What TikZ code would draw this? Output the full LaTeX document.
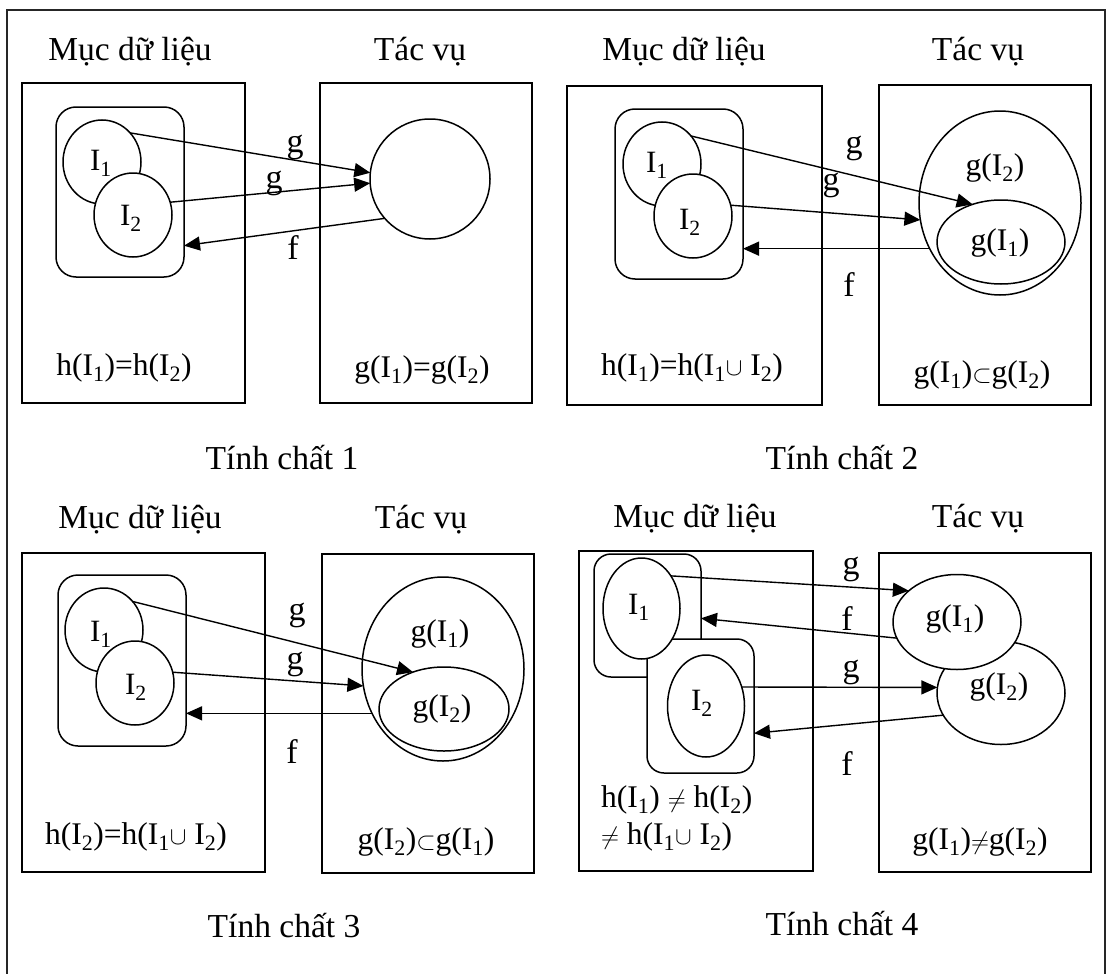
\documentclass[tikz,border=0pt]{standalone}
\usepackage{fontspec}
\setmainfont{Liberation Serif}
\usetikzlibrary{arrows.meta,shapes.geometric}
\newcommand\sbs[1]{\textsubscript{#1}}
\tikzset{
  box/.style={draw, line width=1.6pt, inner sep=0pt, outer sep=0pt, anchor=north west},
  rbox/.style={draw, line width=1.5pt, rounded corners=20pt, fill=white, inner sep=0pt, outer sep=0pt, anchor=north west},
  ell/.style={ellipse, draw, line width=1.5pt, fill=white, inner sep=0pt, outer sep=0pt},
  arr/.style={line width=1.4pt, -{Triangle[length=16pt,width=14pt]}},
  ttl/.style={font=\fontsize{33.5}{40}\selectfont, inner sep=0pt},
  lbl/.style={font=\fontsize{31.5}{38}\selectfont, inner sep=0pt},
  ilbl/.style={font=\fontsize{31}{38}\selectfont, inner sep=0pt},
  gf/.style={font=\fontsize{34}{40}\selectfont, inner sep=0pt}
}
\begin{document}
\begin{tikzpicture}[x=1pt,y=-1pt]
\useasboundingbox (0,0) rectangle (1108,974);
\draw[line width=2pt, black!85] (7,976) -- (7,10) -- (1105,10) -- (1105,976);

% ---------- Quadrant 1 ----------
\node[ttl] (t1a) at (130,52) {Mục dữ liệu};
\node[ttl] (t1b) at (420,52) {Tác vụ};
\node[box, minimum width=223pt, minimum height=320pt] (L1) at (22,83) {};
\node[box, minimum width=212pt, minimum height=320pt] (R1) at (320,83) {};
\node[rbox, minimum width=128pt, minimum height=170pt] (RR1) at (56,107) {};
\node[ell, minimum width=78pt, minimum height=84pt] (A1) at (102,162) {};
\node[ell, minimum width=78pt, minimum height=84pt] (B1) at (133,215) {};
\node[ilbl] (a1t) at (101,163) {I\sbs{1}};
\node[ilbl] (b1t) at (131,218) {I\sbs{2}};
\node[ell, minimum width=120pt, minimum height=120pt] (C1) at (430,179) {};
\draw[arr] (A1.46) -- (C1.174);
\draw[arr] (B1.19) -- (C1.184);
\draw[arr] (C1.221) -- (RR1.-40);
\node[gf] (g1a) at (295,147) {g};
\node[gf] (g1b) at (274,183) {g};
\node[gf] (f1a) at (293,248) {f};
\node[lbl] (h1) at (124,368) {h(I\sbs{1})=h(I\sbs{2})};
\node[lbl] (k1) at (422,370) {g(I\sbs{1})=g(I\sbs{2})};
\node[ttl] (p1) at (282,458) {Tính chất 1};

% ---------- Quadrant 2 ----------
\node[ttl] (t2a) at (684,52) {Mục dữ liệu};
\node[ttl] (t2b) at (978,52) {Tác vụ};
\node[box, minimum width=255pt, minimum height=319pt] (L2) at (567,86) {};
\node[box, minimum width=212pt, minimum height=320pt] (R2) at (879,85) {};
\node[rbox, minimum width=128pt, minimum height=170pt] (RR2) at (615,109) {};
\node[ell, minimum width=78pt, minimum height=84pt] (A2) at (662,164) {};
\node[ell, minimum width=78pt, minimum height=84pt] (B2) at (693,216) {};
\node[ilbl] (a2t) at (657,165) {I\sbs{1}};
\node[ilbl] (b2t) at (690,222) {I\sbs{2}};
\node[ell, minimum width=162pt, minimum height=184pt] (E2) at (1000,203) {};
\node[ell, minimum width=128pt, minimum height=84pt] (F2) at (1001,242) {};
\node[lbl] (e2t) at (995,168) {g(I\sbs{2})};
\node[lbl] (f2t) at (1000,243) {g(I\sbs{1})};
\draw[arr] (A2.44) -- (F2.127);
\draw[arr] (B2.16) -- (E2.192);
\draw[arr] (E2.213) -- (E2.213 -| RR2.east);
\node[gf] (g2a) at (854,148) {g};
\node[gf] (g2b) at (831,185) {g};
\node[gf] (f2a) at (849,285) {f};
\node[lbl] (h2) at (692,368) {h(I\sbs{1})=h(I\sbs{1}$\cup$ I\sbs{2})};
\node[lbl] (k2) at (982,375) {g(I\sbs{1})$\subset$g(I\sbs{2})};
\node[ttl] (p2) at (842,458) {Tính chất 2};

% ---------- Quadrant 3 ----------
\node[ttl] (t3a) at (140,520) {Mục dữ liệu};
\node[ttl] (t3b) at (421,520) {Tác vụ};
\node[box, minimum width=243pt, minimum height=319pt] (L3) at (22,553) {};
\node[box, minimum width=212pt, minimum height=319pt] (R3) at (322,554) {};
\node[rbox, minimum width=128pt, minimum height=171pt] (RR3) at (58,575) {};
\node[ell, minimum width=78pt, minimum height=84pt] (A3) at (104,630) {};
\node[ell, minimum width=78pt, minimum height=84pt] (B3) at (135,683) {};
\node[ilbl] (a3t) at (101,634) {I\sbs{1}};
\node[ilbl] (b3t) at (136,687) {I\sbs{2}};
\node[ell, minimum width=162pt, minimum height=184pt] (E3) at (443,669) {};
\node[ell, minimum width=130pt, minimum height=84pt] (F3) at (444,709) {};
\node[lbl] (e3t) at (440,634) {g(I\sbs{1})};
\node[lbl] (f3t) at (442,709) {g(I\sbs{2})};
\draw[arr] (A3.45) -- (F3.130);
\draw[arr] (B3.16) -- (E3.192);
\draw[arr] (E3.212) -- (E3.212 -| RR3.east);
\node[gf] (g3a) at (297,615) {g};
\node[gf] (g3b) at (295,664) {g};
\node[gf] (f3a) at (292,752) {f};
\node[lbl] (h3) at (136,837) {h(I\sbs{2})=h(I\sbs{1}$\cup$ I\sbs{2})};
\node[lbl] (k3) at (426,842) {g(I\sbs{2})$\subset$g(I\sbs{1})};
\node[ttl] (p3) at (284,926) {Tính chất 3};

% ---------- Quadrant 4 ----------
\node[ttl] (t4a) at (695,519) {Mục dữ liệu};
\node[ttl] (t4b) at (978,519) {Tác vụ};
\node[box, minimum width=234pt, minimum height=320pt] (L4) at (579,551) {};
\node[box, minimum width=212pt, minimum height=319pt] (R4) at (879,553) {};
\node[rbox, rounded corners=17pt, minimum width=107pt, minimum height=123pt] (RR4a) at (594,554) {};
\node[rbox, rounded corners=17pt, minimum width=107pt, minimum height=134pt] (RR4b) at (647,639) {};
\node[ell, minimum width=77pt, minimum height=101pt] (A4) at (641.5,608.5) {};
\node[ell, minimum width=77pt, minimum height=102pt] (B4) at (706,706) {};
\node[ilbl] (a4t) at (639,607) {I\sbs{1}};
\node[ilbl] (b4t) at (702,703) {I\sbs{2}};
\node[ell, minimum width=128pt, minimum height=103pt] (G4b) at (1001,693) {};
\node[ell, minimum width=128pt, minimum height=95pt] (G4a) at (957,622) {};
\node[lbl] (e4t) at (955,619) {g(I\sbs{1})};
\node[lbl] (f4t) at (999,687) {g(I\sbs{2})};
\draw[arr] (A4.48) -- (G4a.147);
\draw[arr] (G4a.195) -- (RR4a.-3);
\draw[arr] (B4.28) -- (G4b.175);
\draw[arr] (G4b.201) -- (RR4b.-27);
\node[gf] (g4a) at (851,569) {g};
\node[gf] (f4a) at (847,619) {f};
\node[gf] (g4b) at (851,672) {g};
\node[gf] (f4b) at (847,764) {f};
\node[lbl, align=left, anchor=west, font=\fontsize{31.5}{37}\selectfont] (h4) at (601,818)
  {h(I\sbs{1}) $\neq$ h(I\sbs{2})\\$\neq$ h(I\sbs{1}$\cup$ I\sbs{2})};
\node[lbl] (k4) at (980,842) {g(I\sbs{1})$\neq$g(I\sbs{2})};
\node[ttl] (p4) at (842,924) {Tính chất 4};
\end{tikzpicture}
\end{document}
